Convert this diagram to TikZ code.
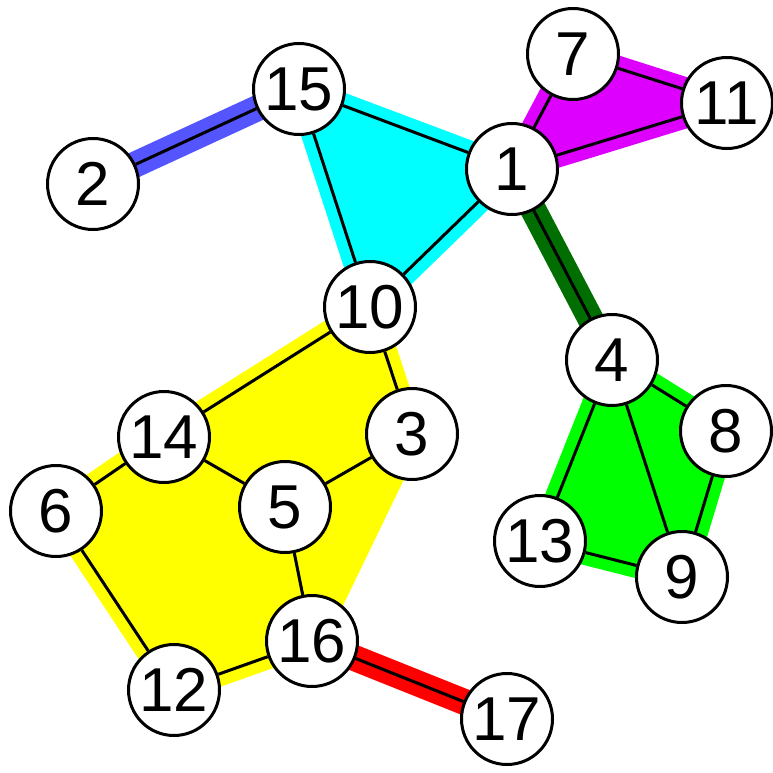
\documentclass[tikz,border=0pt]{standalone}
\usepackage{fontspec}
\setmainfont{Liberation Sans}
\usetikzlibrary{backgrounds}

\definecolor{grpblue}{RGB}{85,85,255}
\definecolor{grpcyan}{RGB}{0,255,255}
\definecolor{grpmagenta}{RGB}{221,0,255}
\definecolor{grpdkgreen}{RGB}{0,110,0}
\definecolor{grpgreen}{RGB}{0,255,0}
\definecolor{grpyellow}{RGB}{255,255,0}
\definecolor{grpred}{RGB}{255,0,0}

\begin{document}
\begin{tikzpicture}[x=1pt,y=-1pt,
    vertex/.style={circle,draw,line width=3pt,fill=white,minimum size=91pt,
        inner sep=0pt,font=\fontsize{62}{64}\selectfont},
    edge/.style={line width=3pt},
    hull/.style={line width=25pt,line join=round},
    band/.style={line width=26pt}]
    \useasboundingbox (0,0) rectangle (772,773);

    % vertices
    \node[vertex] (v1) at (512,169) {1};
    \node[vertex] (v2) at (93,184) {2};
    \node[vertex] (v3) at (412,434) {3};
    \node[vertex] (v4) at (612,360) {4};
    \node[vertex] (v5) at (285,507) {5};
    \node[vertex] (v6) at (56,511) {6};
    \node[vertex] (v7) at (573,54) {7};
    \node[vertex] (v8) at (726,431) {8};
    \node[vertex] (v9) at (682,577) {9};
    \node[vertex] (v10) at (370,307) {10};
    \node[vertex] (v11) at (727,103) {11};
    \node[vertex] (v12) at (174,690) {12};
    \node[vertex] (v13) at (540,541) {13};
    \node[vertex] (v14) at (164,437) {14};
    \node[vertex] (v15) at (299,89) {15};
    \node[vertex] (v16) at (312,641) {16};
    \node[vertex] (v17) at (507,719) {17};

    \begin{scope}[on background layer]
        % hyperedges
        \filldraw[hull,grpcyan] (v15.center) -- (v1.center) -- (v10.center) -- cycle;
        \filldraw[hull,grpmagenta] (v7.center) -- (v11.center) -- (v1.center) -- cycle;
        \filldraw[hull,grpgreen] (v4.center) -- (v8.center) -- (v9.center) -- (v13.center) -- cycle;
        \filldraw[hull,grpyellow] (v10.center) -- (v3.center) -- (v16.center)
            -- (v12.center) -- (v6.center) -- (v14.center) -- cycle;
        \draw[band,grpblue] (v2.center) -- (v15.center);
        \draw[band,grpdkgreen] (v1.center) -- (v4.center);
        \draw[band,grpred] (v16.center) -- (v17.center);

        % edges
        \foreach \a/\b in {2/15,15/1,15/10,10/1,1/7,7/11,1/11,1/4,4/8,4/13,4/9,
                8/9,13/9,10/14,10/3,14/6,14/5,5/3,5/16,6/12,12/16,16/17}
            \draw[edge] (v\a) -- (v\b);
    \end{scope}
\end{tikzpicture}
\end{document}
